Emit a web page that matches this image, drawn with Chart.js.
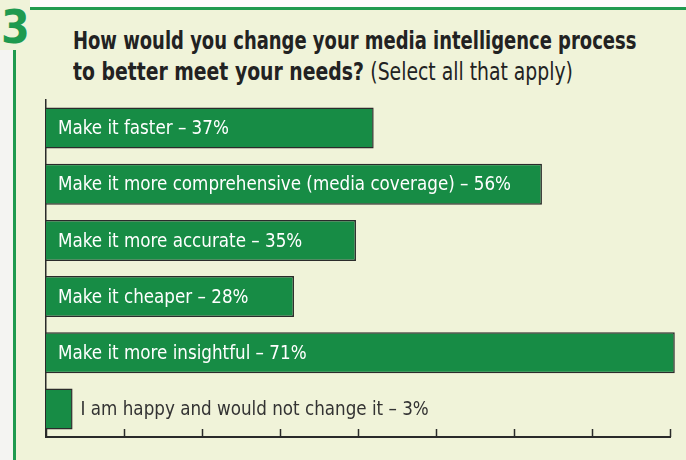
<!DOCTYPE html>
<html>
<head>
<meta charset="utf-8">
<script src="https://cdn.jsdelivr.net/npm/chart.js@4"></script>
<style>
  html, body { margin: 0; padding: 0; }
  body { width: 686px; height: 460px; background: #f4f4f2; position: relative; overflow: hidden;
         font-family: "Liberation Sans Narrow", "DejaVu Sans Condensed", "Roboto Condensed", sans-serif; }
  .top-strip { position: absolute; left: 0; top: 0; width: 686px; height: 8px; background: #fbfbfb; }
  .panel { position: absolute; left: 13px; top: 7px; right: 0; bottom: 0; background: #f0f3d9;
           border-top: 3px solid #1f9a4f; border-left: 3px solid #1f9a4f; }
  .num { position: absolute; left: 0; top: 0; width: 29px; height: 50px; background: #f0f3d9;
         color: #1f9a4f; font-weight: bold; font-size: 46px; line-height: 54px; padding-left: 1px; overflow: hidden; }
  .title { position: absolute; left: 73px; color: #222; font-size: 24px; line-height: 31px; font-weight: bold;
           white-space: nowrap; transform-origin: 0 0; }
  .title span { font-weight: normal; }
  canvas { position: absolute; left: 0; top: 0; }
</style>
</head>
<body>
<div class="top-strip"></div>
<div class="panel"></div>
<div class="num">3</div>
<div class="title" id="t1" style="top:26px">How would you change your media intelligence process</div>
<div class="title" id="t2" style="top:57px">to better meet your needs? <span>(Select all that apply)</span></div>
<div style="position:absolute;left:0;top:0;width:686px;height:460px"><canvas id="chart"></canvas></div>
<script>
const categories = [
  "Make it faster",
  "Make it more comprehensive (media coverage)",
  "Make it more accurate",
  "Make it cheaper",
  "Make it more insightful",
  "I am happy and would not change it"
];
const values = [37, 56, 35, 28, 71, 3];
const axisMax = 70.46;
const tickCount = 8;

const FONT = '"Liberation Sans Narrow", "DejaVu Sans Condensed", "Roboto Condensed", sans-serif';

// squeeze the title lines to the width of the printed heading
const t1 = document.getElementById("t1");
const t2 = document.getElementById("t2");
t1.style.transform = "scaleX(" + (563 / t1.scrollWidth) + ")";
t2.style.transform = "scaleX(" + (500 / t2.scrollWidth) + ")";

const labelText = i => categories[i] + " \u2013 " + values[i] + "%";

// labels inside bars (or just after a short bar)
const barLabels = {
  id: "barLabels",
  afterDatasetsDraw(chart) {
    const ctx = chart.ctx;
    const meta = chart.getDatasetMeta(0);
    ctx.save();
    ctx.font = "20px " + FONT;
    ctx.textBaseline = "middle";
    const sx = 453 / ctx.measureText(labelText(1)).width;
    meta.data.forEach((bar, i) => {
      const text = labelText(i);
      const w = ctx.measureText(text).width * sx;
      let x, color;
      if (bar.x - bar.base > w + 20) {
        x = bar.base + 12; color = "#ffffff";
      } else {
        x = bar.x + 8; color = "#333333";
      }
      ctx.save();
      ctx.translate(x, bar.y + 1);
      ctx.scale(sx, 1);
      ctx.fillStyle = color;
      ctx.fillText(text, 0, 0);
      ctx.restore();
    });
    ctx.restore();
  }
};

// short tick marks pointing up from the x axis
const innerTicks = {
  id: "innerTicks",
  afterDraw(chart) {
    const ctx = chart.ctx;
    const x = chart.scales.x;
    ctx.save();
    ctx.strokeStyle = "#2a2a2a";
    ctx.lineWidth = 1.5;
    x.ticks.forEach(t => {
      const px = Math.round(x.getPixelForValue(t.value)) + 0.5;
      ctx.beginPath();
      ctx.moveTo(px, x.top);
      ctx.lineTo(px, x.top - 8);
      ctx.stroke();
    });
    ctx.restore();
  }
};

new Chart(document.getElementById("chart"), {
  type: "bar",
  data: {
    labels: categories,
    datasets: [{
      data: values,
      backgroundColor: "#178c45",
      borderColor: "#2b2b2b",
      borderWidth: 1.5,
      borderSkipped: "start",
      categoryPercentage: 1,
      barPercentage: 0.73,
      clip: false
    }]
  },
  options: {
    indexAxis: "y",
    responsive: true,
    maintainAspectRatio: false,
    animation: false,
    layout: { padding: { left: 46, top: 100, right: 16, bottom: 23 } },
    plugins: { legend: { display: false }, tooltip: { enabled: false } },
    scales: {
      x: {
        min: 0,
        max: axisMax,
        afterBuildTicks(scale) {
          scale.ticks = [];
          for (let i = 0; i <= tickCount; i++) scale.ticks.push({ value: axisMax * i / tickCount });
        },
        afterFit(scale) { scale.height = 0; },
        ticks: { display: false },
        grid: { display: false, drawTicks: false },
        border: { display: true, color: "#2a2a2a", width: 2 }
      },
      y: {
        afterFit(scale) { scale.width = 0; },
        ticks: { display: false },
        grid: { display: false, drawTicks: false },
        border: { display: true, color: "#2a2a2a", width: 1.5 }
      }
    }
  },
  plugins: [barLabels, innerTicks]
});
</script>
</body>
</html>
